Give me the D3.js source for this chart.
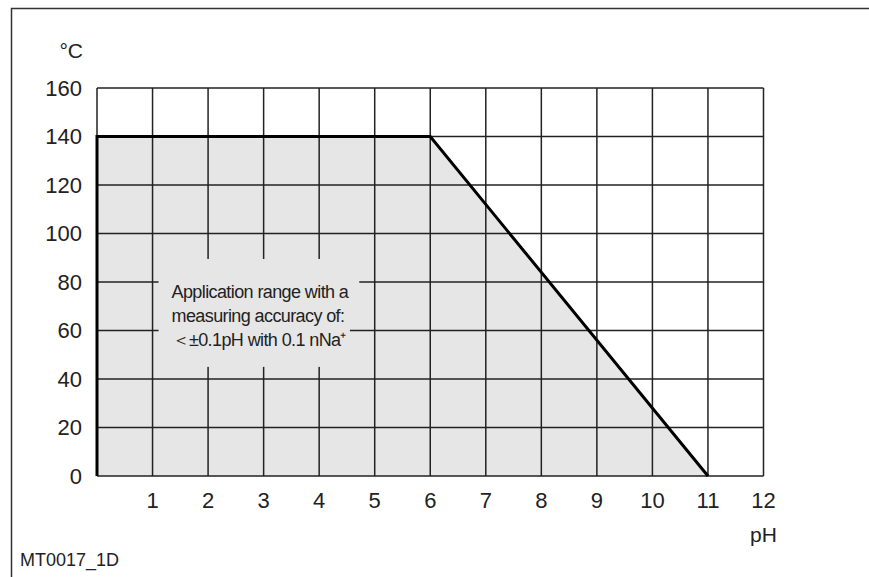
<!DOCTYPE html>
<html>
<head>
<meta charset="utf-8">
<script src="https://cdn.jsdelivr.net/npm/d3@7"></script>
<style>
  body { margin: 0; background: #fff; }
  text { font-family: 'Liberation Sans Narrow', 'Liberation Sans', Arial, sans-serif; fill: #222; }
</style>
</head>
<body>
<svg id="chart" width="869" height="577"></svg>
<script>
const phTicks = [1, 2, 3, 4, 5, 6, 7, 8, 9, 10, 11, 12]
const tempTicks = [0, 20, 40, 60, 80, 100, 120, 140, 160]
// boundary of the application range (pH, °C)
const rangePh = [0, 0, 6, 11]
const rangeTemp = [0, 140, 140, 0]
const noteLines = ['Application range with a', 'measuring accuracy of:', '\uff1c\u00b10.1pH with 0.1 nNa\u207a']

const svg = d3.select('#chart')
const x = d3.scaleLinear().domain([0, 12]).range([97, 763.5])
const y = d3.scaleLinear().domain([0, 160]).range([476, 88])

const pts = rangePh.map((p, i) => [p, rangeTemp[i]])

// outer frame (top + left)
svg.append('path')
  .attr('d', 'M11.5,577 V8.5 H869')
  .attr('fill', 'none').attr('stroke', '#333').attr('stroke-width', 1.5)

// shaded area
svg.append('path')
  .datum(pts)
  .attr('d', d3.line().x(d => x(d[0])).y(d => y(d[1])))
  .attr('fill', '#e6e6e6')

// grid
const grid = svg.append('g').attr('stroke', '#222').attr('stroke-width', 1.5)
grid.selectAll('.v').data([0].concat(phTicks)).enter().append('line')
  .attr('x1', d => x(d)).attr('x2', d => x(d))
  .attr('y1', y(0)).attr('y2', y(160))
grid.selectAll('.h').data(tempTicks).enter().append('line')
  .attr('x1', x(0)).attr('x2', x(12))
  .attr('y1', d => y(d)).attr('y2', d => y(d))

// note with background masking the grid
const note = svg.append('g')
const noteX = x(1) + 19
const lineH = 24
const noteY0 = y(73.2)
const texts = note.selectAll('text').data(noteLines).enter().append('text')
  .attr('x', noteX)
  .attr('y', (d, i) => noteY0 + i * lineH)
  .attr('font-size', 18)
  .attr('letter-spacing', -0.6)
  .text(d => d)
const widths = []
texts.each(function () { widths.push(this.getComputedTextLength()) })
note.insert('rect', 'text')
  .attr('x', x(1) + 6).attr('y', y(89.5))
  .attr('width', noteX - x(1) - 6 + d3.max(widths.slice(0, 2)) + 11).attr('height', y(69.3) - y(89.5))
  .attr('fill', '#e6e6e6')
note.insert('rect', 'text')
  .attr('x', x(1) + 6).attr('y', y(69.5))
  .attr('width', noteX - x(1) - 6 + widths[2] + 4).attr('height', y(45) - y(69.5))
  .attr('fill', '#e6e6e6')

// boundary line
svg.append('path')
  .datum(pts)
  .attr('d', d3.line().x(d => x(d[0])).y(d => y(d[1])))
  .attr('fill', 'none').attr('stroke', '#000').attr('stroke-width', 3)
  .attr('stroke-linejoin', 'miter')

// tick labels
svg.selectAll('.yl').data(tempTicks).enter().append('text')
  .attr('x', 82).attr('y', d => y(d)).attr('dy', '0.36em')
  .attr('text-anchor', 'end').attr('font-size', 22)
  .text(d => d)
svg.selectAll('.xl').data(phTicks).enter().append('text')
  .attr('x', d => x(d)).attr('y', 508)
  .attr('text-anchor', 'middle').attr('font-size', 22)
  .text(d => d)

svg.append('text').attr('x', 83).attr('y', 58).attr('text-anchor', 'end')
  .attr('font-size', 21).text('\u00b0C')
svg.append('text').attr('x', x(12)).attr('y', 542).attr('text-anchor', 'middle')
  .attr('font-size', 21).text('pH')
svg.append('text').attr('x', 20).attr('y', 566)
  .attr('font-size', 18).text('MT0017_1D')
</script>
</body>
</html>
